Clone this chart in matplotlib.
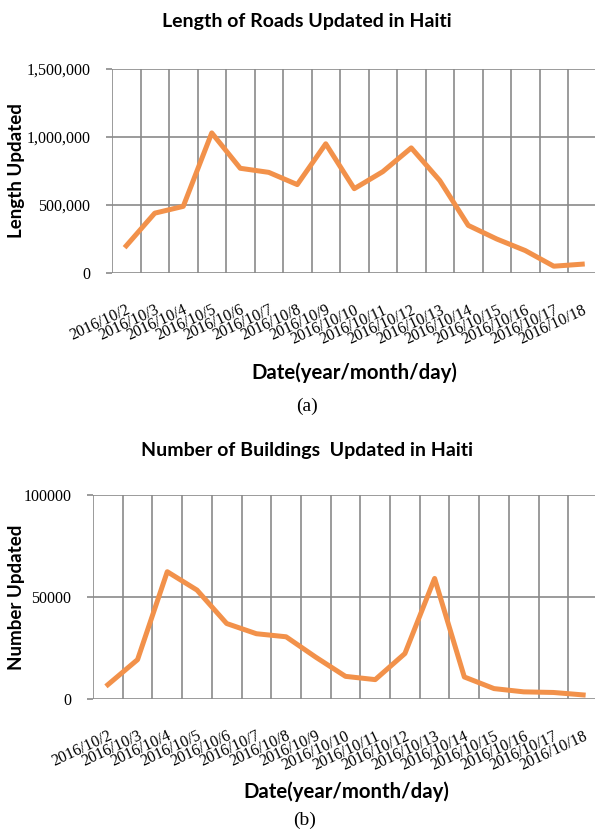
import matplotlib
matplotlib.use("Agg")
import matplotlib.pyplot as plt
import numpy as np

dates = ["2016/10/2", "2016/10/3", "2016/10/4", "2016/10/5", "2016/10/6",
         "2016/10/7", "2016/10/8", "2016/10/9", "2016/10/10", "2016/10/11",
         "2016/10/12", "2016/10/13", "2016/10/14", "2016/10/15", "2016/10/16",
         "2016/10/17", "2016/10/18"]

road_length = [200000, 440000, 490000, 1030000, 770000, 740000, 650000, 950000,
               620000, 745000, 920000, 680000, 350000, 250000, 165000, 50000, 65000]

buildings = [7000, 19300, 62400, 53400, 37000, 32000, 30500, 20500, 11100,
             9500, 22300, 59100, 10800, 5100, 3500, 3200, 2000]

road_ticks = [0, 500000, 1000000, 1500000]
road_tick_labels = ["0", "500,000", "1,000,000", "1,500,000"]
bldg_ticks = [0, 50000, 100000]
bldg_tick_labels = ["0", "50000", "100000"]

LINE = "#F2914A"
GRID = "#8a8a8a"
SANS = ["Lato", "DejaVu Sans"]
SERIF = ["Liberation Serif", "DejaVu Serif"]
plt.rcParams["font.family"] = SERIF

W, H = 595, 833
fig = plt.figure(figsize=(W / 100, H / 100), dpi=100)


def panel(left, top, width, bottom, values, ticks, tick_labels, ylabel):
    ax = fig.add_axes([left / W, 1 - bottom / H, width / W, (bottom - top) / H])
    x = np.arange(len(values)) + 0.5
    ax.plot(x, values, color=LINE, lw=3.6, zorder=3)
    ax.set_xlim(0, len(values))
    ax.set_ylim(ticks[0], ticks[-1])
    for s in ax.spines.values():
        s.set_visible(False)
    ax.set_yticks(ticks)
    ax.set_yticklabels(tick_labels, fontsize=11.5)
    ax.tick_params(axis="y", length=4, width=1.2, color=GRID, pad=11.5)
    ax.set_xticks(x)
    ax.set_xticklabels(dates, fontsize=11.5, rotation=25,
                       ha="right", va="top", rotation_mode="anchor")
    ax.tick_params(axis="x", length=0, pad=21)
    for lbl in ax.get_xticklabels() + ax.get_yticklabels():
        lbl.set_fontfamily(SERIF)
    ax.set_xticks(np.arange(len(values) + 1), minor=True)
    ax.tick_params(axis="x", which="minor", length=0)
    ax.grid(True, which="minor", axis="x", color=GRID, lw=1.2)
    ax.grid(True, which="major", axis="y", color=GRID, lw=1.2)
    ax.set_axisbelow(True)
    fig.text(17 / W, 1 - ((top + bottom) / 2) / H, ylabel, rotation=90,
             ha="center", va="center", family=SANS, fontweight="bold", fontsize=13.5)
    return ax


panel(112, 69, 484.5, 273, road_length, road_ticks, road_tick_labels, "Length Updated")
panel(93, 495, 505, 699, buildings, bldg_ticks, bldg_tick_labels, "Number Updated")

fig.text(307 / W, 1 - 22 / H, "Length of Roads Updated in Haiti",
         ha="center", va="center", family=SANS, fontweight="bold", fontsize=14)
fig.text(307 / W, 1 - 451 / H, "Number of Buildings  Updated in Haiti",
         ha="center", va="center", family=SANS, fontweight="bold", fontsize=14)

fig.text(354 / W, 1 - 373 / H, "Date(year/month/day)",
         ha="center", va="center", family=SANS, fontweight="bold", fontsize=14.7)
fig.text(346 / W, 1 - 792 / H, "Date(year/month/day)",
         ha="center", va="center", family=SANS, fontweight="bold", fontsize=14.7)

fig.text(307 / W, 1 - 406 / H, "(a)", ha="center", va="center", fontsize=14)
fig.text(305 / W, 1 - 820 / H, "(b)", ha="center", va="center", fontsize=14)

fig.savefig("out.png", dpi=100)
